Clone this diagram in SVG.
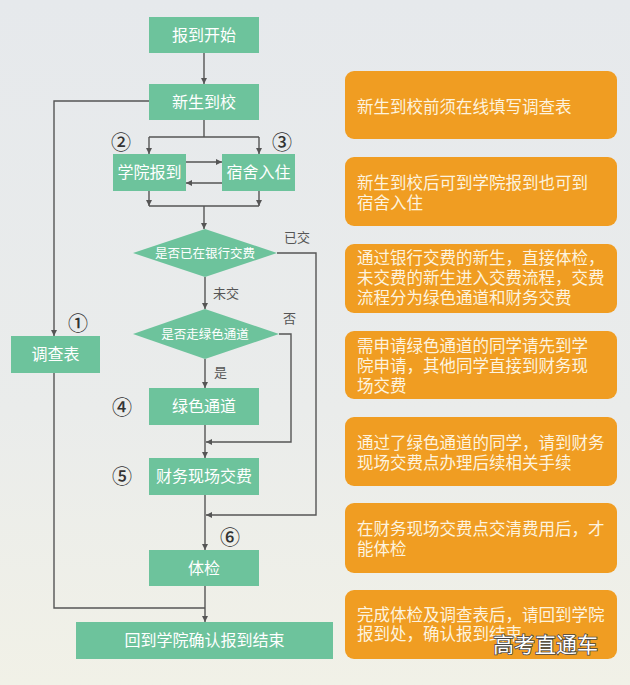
<svg xmlns="http://www.w3.org/2000/svg" width="630" height="685" viewBox="0 0 630 685">
<defs>
<linearGradient id="bg" x1="0" y1="0" x2="0" y2="1">
<stop offset="0" stop-color="#e6e9ec"/>
<stop offset="0.6" stop-color="#eaeceb"/>
<stop offset="1" stop-color="#f1f1e7"/>
</linearGradient>
<marker id="ar" markerUnits="userSpaceOnUse" markerWidth="7" markerHeight="7" refX="6" refY="3" orient="auto">
<path d="M0,0 L6,3 L0,6 z" fill="#555"/>
</marker>
<style>
.g{fill:#6dc39c}
.o{fill:#f09d22}
.gt{font-family:"Noto Sans CJK SC",sans-serif;font-size:16px;fill:#fff;text-anchor:middle}
.dt{font-family:"Noto Sans CJK SC",sans-serif;font-size:12.5px;fill:#fff;text-anchor:middle}
.ot{font-family:"Noto Sans CJK SC",sans-serif;font-size:16.5px;fill:#fdf3df}
.lb{font-family:"Noto Sans CJK SC",sans-serif;font-size:13px;fill:#555}
.cn{font-family:"Noto Sans CJK SC",sans-serif;font-size:20px;fill:#333;text-anchor:middle;font-weight:500}
.ln{fill:none;stroke:#555;stroke-width:1.4}
.wm{font-family:"Noto Sans CJK SC",sans-serif;font-size:21px;fill:#fff;stroke:#444;stroke-width:1.6;paint-order:stroke}
</style>
</defs>
<rect width="630" height="685" fill="url(#bg)"/>

<g id="connectors">
<line class="ln" x1="204" y1="53" x2="204" y2="84" marker-end="url(#ar)"/>
<polyline class="ln" points="149,101 54,101 54,336" marker-end="url(#ar)"/>
<line class="ln" x1="204" y1="120" x2="204" y2="137"/>
<line class="ln" x1="149" y1="137" x2="259" y2="137"/>
<line class="ln" x1="149" y1="137" x2="149" y2="154" marker-end="url(#ar)"/>
<line class="ln" x1="259" y1="137" x2="259" y2="154" marker-end="url(#ar)"/>
<line class="ln" x1="186" y1="162" x2="222" y2="162" marker-end="url(#ar)"/>
<line class="ln" x1="222" y1="183" x2="186" y2="183" marker-end="url(#ar)"/>
<line class="ln" x1="149" y1="191" x2="149" y2="206" marker-end="url(#ar)"/>
<line class="ln" x1="259" y1="191" x2="259" y2="206" marker-end="url(#ar)"/>
<line class="ln" x1="149" y1="206" x2="259" y2="206"/>
<line class="ln" x1="204" y1="206" x2="204" y2="229" marker-end="url(#ar)"/>
<polyline class="ln" points="277,253 316,253 316,515 206,515" marker-end="url(#ar)"/>
<line class="ln" x1="205" y1="277" x2="205" y2="309" marker-end="url(#ar)"/>
<polyline class="ln" points="279,334 291,334 291,442 206,442" marker-end="url(#ar)"/>
<line class="ln" x1="205" y1="359" x2="205" y2="388" marker-end="url(#ar)"/>
<line class="ln" x1="205" y1="425" x2="205" y2="458" marker-end="url(#ar)"/>
<line class="ln" x1="205" y1="495" x2="205" y2="550" marker-end="url(#ar)"/>
<polyline class="ln" points="54,373 54,608 205,608"/>
<line class="ln" x1="205" y1="586" x2="205" y2="622" marker-end="url(#ar)"/>
<text class="lb" x="284" y="242">已交</text>
<text class="lb" x="213" y="298">未交</text>
<text class="lb" x="283" y="323">否</text>
<text class="lb" x="214" y="377">是</text>
</g>

<g id="start"><rect class="g" x="149" y="17" width="110" height="36"/><text class="gt" x="204" y="41">报到开始</text></g>
<g id="arrive"><rect class="g" x="149" y="84" width="110" height="36"/><text class="gt" x="204" y="108">新生到校</text></g>
<g id="college"><rect class="g" x="113" y="154" width="73" height="37"/><text class="gt" x="149.5" y="178">学院报到</text><text class="cn" x="121" y="150">②</text></g>
<g id="dorm"><rect class="g" x="222" y="154" width="73" height="37"/><text class="gt" x="258.5" y="178">宿舍入住</text><text class="cn" x="282" y="150">③</text></g>
<g id="bank"><polygon class="g" points="205,229 277,253 205,277 133,253"/><text class="dt" x="205" y="258">是否已在银行交费</text></g>
<g id="greenq"><polygon class="g" points="205,309 279,334 205,359 133,334"/><text class="dt" x="205" y="339">是否走绿色通道</text></g>
<g id="survey"><rect class="g" x="11" y="336" width="89" height="37"/><text class="gt" x="55.5" y="360">调查表</text><text class="cn" x="78" y="331">①</text></g>
<g id="green"><rect class="g" x="149" y="388" width="110" height="37"/><text class="gt" x="204" y="412">绿色通道</text><text class="cn" x="122" y="415">④</text></g>
<g id="finance"><rect class="g" x="149" y="458" width="110" height="37"/><text class="gt" x="204" y="482">财务现场交费</text><text class="cn" x="122" y="484">⑤</text></g>
<g id="exam"><rect class="g" x="149" y="550" width="110" height="36"/><text class="gt" x="204" y="574">体检</text><text class="cn" x="230" y="545">⑥</text></g>
<g id="end"><rect class="g" x="76" y="622" width="257" height="37"/><text class="gt" x="204.5" y="646">回到学院确认报到结束</text></g>

<g id="note1"><rect class="o" x="345" y="71" width="272" height="68" rx="9"/><text class="ot" x="357" y="113">新生到校前须在线填写调查表</text></g>
<g id="note2"><rect class="o" x="345" y="157" width="272" height="69" rx="9"/><text class="ot" x="357" y="189">新生到校后可到学院报到也可到<tspan x="357" dy="20">宿舍入住</tspan></text></g>
<g id="note3"><rect class="o" x="345" y="244" width="272" height="69" rx="9"/><text class="ot" x="357" y="264">通过银行交费的新生，直接体检，<tspan x="357" dy="20">未交费的新生进入交费流程，交费</tspan><tspan x="357" dy="19.5">流程分为绿色通道和财务交费</tspan></text></g>
<g id="note4"><rect class="o" x="345" y="331" width="272" height="68" rx="9"/><text class="ot" x="357" y="352">需申请绿色通道的同学请先到学<tspan x="357" dy="20">院申请，其他同学直接到财务现</tspan><tspan x="357" dy="19.5">场交费</tspan></text></g>
<g id="note5"><rect class="o" x="345" y="417" width="272" height="69" rx="9"/><text class="ot" x="357" y="449">通过了绿色通道的同学，请到财务<tspan x="357" dy="19.5">现场交费点办理后续相关手续</tspan></text></g>
<g id="note6"><rect class="o" x="345" y="503" width="272" height="70" rx="9"/><text class="ot" x="357" y="535">在财务现场交费点交清费用后，才<tspan x="357" dy="20">能体检</tspan></text></g>
<g id="note7"><rect class="o" x="345" y="590" width="272" height="69" rx="9"/><text class="ot" x="357" y="621">完成体检及调查表后，请回到学院<tspan x="357" dy="19">报到处，确认报到结束</tspan></text></g>
<text class="wm" x="493" y="652">高考直通车</text>
</svg>
